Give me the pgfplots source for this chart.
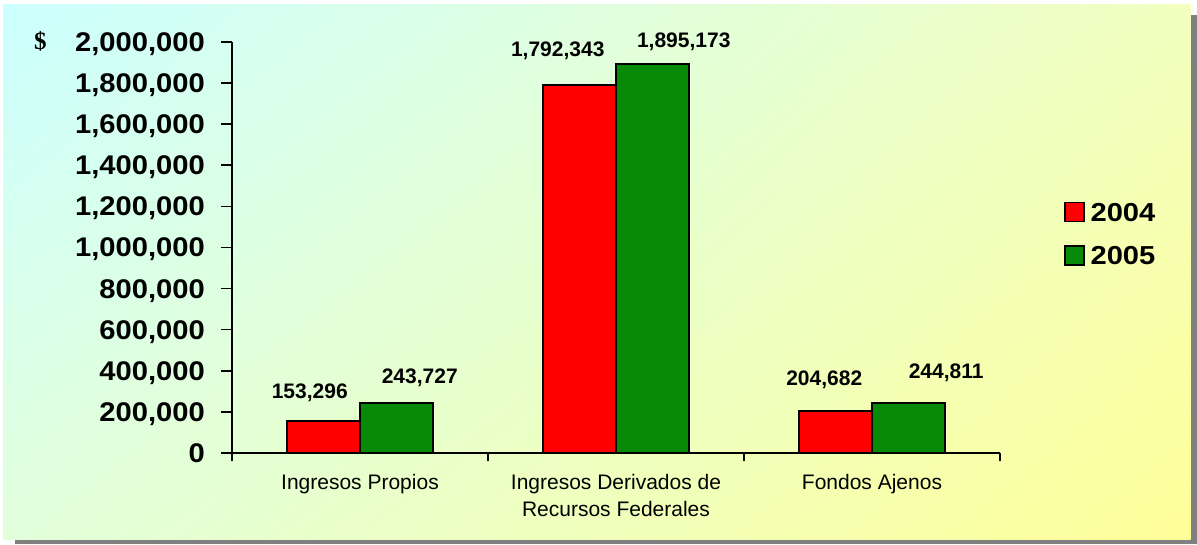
\documentclass[border=0pt]{standalone}
\usepackage{fontspec}
\setmainfont{Liberation Sans}
\newfontfamily\serifb{Liberation Serif}
\newfontfamily\tickf[FakeStretch=1.08]{Liberation Sans}
\newfontfamily\legf[FakeStretch=1.12]{Liberation Sans}
\usepackage{pgfplots}
\usepackage{pgfplotstable}
\usetikzlibrary{shadings}
\pgfplotsset{compat=1.18}
\definecolor{barred}{HTML}{FF0000}
\definecolor{bargreen}{HTML}{078A07}
\definecolor{bgUL}{HTML}{CCFFFF}
\definecolor{bgUR}{HTML}{F2FFBF}
\definecolor{bgLL}{HTML}{E2FFDC}
\definecolor{bgLR}{HTML}{FFFF99}
\definecolor{shadowgray}{HTML}{808080}

\pgfplotstableread{
x y dx dy lbl
0 153296 -13.5 23 153,296
1 1792343 -21.5 28.2 1,792,343
2 204682 -11 25 204,682
}\dataA
\pgfplotstableread{
x y dx dy lbl
0 243727 23 19.2 243,727
1 1895173 31 16.4 1,895,173
2 244811 37.4 24.2 244,811
}\dataB

\begin{document}
\begin{tikzpicture}[x=1pt,y=1pt]
\useasboundingbox (0,0) rectangle (1197,544);
\fill[shadowgray] (15,0) rectangle (1197,529);
\shade[upper left=bgUL, upper right=bgUR, lower left=bgLL, lower right=bgLR] (3.5,4.7) rectangle (1190.7,539.3);
\node[font=\serifb\bfseries\fontsize{25}{25}\selectfont] at (40.5,503) {\$};
\begin{axis}[
  at={(232pt,91pt)}, anchor=south west,
  scale only axis, width=768pt, height=411pt,
  xmin=-0.5, xmax=2.5, ymin=0, ymax=2000000,
  axis x line*=bottom, axis y line*=left,
  axis line style={line width=1.6pt, black},
  clip=false,
  ybar=0pt, bar width=0.287,
  xtick={0,1,2},
  xticklabels={Ingresos Propios,{Ingresos Derivados de\\Recursos Federales},Fondos Ajenos},
  minor xtick={-0.5,0.5,1.5,2.5},
  major x tick style={draw=none},
  minor tick length=8pt,
  major tick length=11pt,
  tick align=outside,
  tick style={line width=1.6pt, black},
  xticklabel style={align=center, font=\fontsize{21}{27}\selectfont, anchor=north, inner sep=0pt, yshift=-10pt},
  ytick={0,200000,...,2000000},
  scaled y ticks=false,
  /pgf/number format/.cd, fixed, 1000 sep={,}, assume math mode=true,
  /pgfplots/.cd,
  yticklabel style={font=\tickf\bfseries\fontsize{27}{27}\selectfont, anchor=base east, inner sep=0pt, yshift=-9.5pt, xshift=-16pt},
  point meta=explicit symbolic,
  nodes near coords,
  visualization depends on={\thisrow{dx} \as \lblx},
  visualization depends on={\thisrow{dy} \as \lbly},
  nodes near coords style={anchor=base, inner sep=0pt, xshift=\lblx pt, yshift=\lbly pt, font=\bfseries\fontsize{21}{21}\selectfont},
  legend style={at={(1.0833,0.6114)}, anchor=north west, draw=none, fill=none, inner sep=0pt,
    font=\legf\bfseries\fontsize{26}{26}\selectfont, row sep=23pt, column sep=6pt,
    nodes={inner sep=0pt, text height=18pt, text depth=0pt}},
  legend image code/.code={\draw[#1, draw=black, line width=1.4pt] (0pt,-9.5pt) rectangle (19pt,9.5pt);},
]
\addplot[fill=barred, draw=black, line width=2pt] table[x=x, y=y, meta=lbl] {\dataA};
\addplot[fill=bargreen, draw=black, line width=2pt] table[x=x, y=y, meta=lbl] {\dataB};
\legend{2004,2005}
\end{axis}
\end{tikzpicture}
\end{document}
